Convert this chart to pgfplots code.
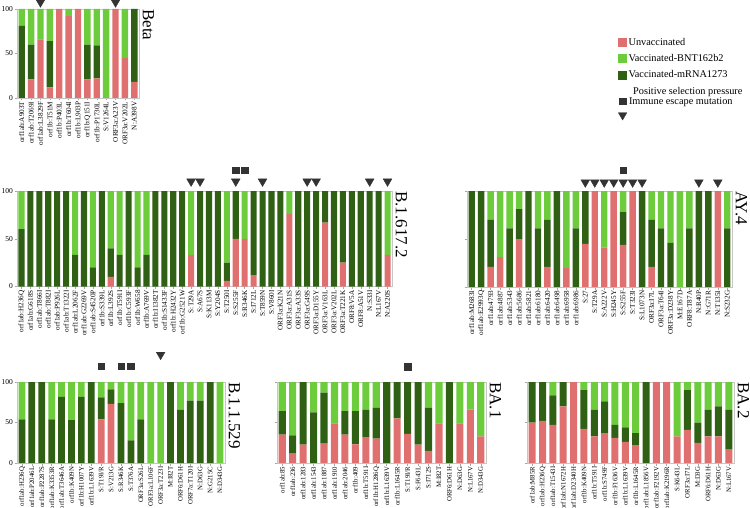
\documentclass[border=0pt]{standalone}
\usepackage{pgfplots}
\usepackage{pgfplotstable}
\pgfplotsset{compat=1.18}
\usepackage{fontspec}
\setmainfont{Liberation Serif}
\definecolor{cU}{RGB}{224,112,112}
\definecolor{cB}{RGB}{108,204,60}
\definecolor{cM}{RGB}{48,96,20}
\definecolor{cK}{RGB}{51,51,51}

\pgfplotsset{
 panel/.style={
   scale only axis, ybar stacked, bar width=0.68,
   ymin=0, ymax=100, enlargelimits=false,
   ytick={0,50,100}, xtick=data,
   axis line style={draw=gray!45, line width=0.6pt},
   tick style={draw=gray!70, line width=0.5pt},
   major tick length=2.5pt, tick align=outside,
   xtick pos=left, ytick pos=left,
   /pgf/number format/assume math mode=true,
   yticklabel style={font=\fontsize{7.5}{8}\selectfont, inner sep=1.5pt},
   xticklabel style={rotate=90, anchor=east, inner sep=1pt, font=\fontsize{7.2}{8}\selectfont},
 },
 small/.style={xticklabel style={font=\fontsize{6.8}{8}\selectfont}},
 mk/.style={scale only axis, hide axis, clip=false, ymin=0, ymax=100, enlargelimits=false},
 tri/.style={only marks, mark=triangle*, mark size=5pt, mark options={rotate=180, fill=cK, draw=cK}},
 sq/.style={only marks, mark=square*, mark size=3.3pt, mark options={fill=cK, draw=cK}},
 gBeta/.style={at={(17pt,-98pt)}, anchor=south west, width=122pt, height=89pt, xmin=0.5, xmax=13.5},
 gDelta/.style={at={(17pt,-286.5pt)}, anchor=south west, width=375pt, height=95.5pt, xmin=0.5, xmax=42.5},
 gAY/.style={at={(467pt,-287pt)}, anchor=south west, width=265pt, height=96pt, xmin=0.5, xmax=28.5},
 gO/.style={at={(17pt,-463pt)}, anchor=south west, width=208pt, height=81pt, xmin=0.5, xmax=21.5},
 gBAa/.style={at={(277pt,-463pt)}, anchor=south west, width=209pt, height=81pt, xmin=0.5, xmax=20.5},
 gBAb/.style={at={(527pt,-463pt)}, anchor=south west, width=207pt, height=81pt, xmin=0.5, xmax=20.5},
}
\newcommand\stack[1]{%
 \addplot[fill=cU, draw=none] table[x=i,y=u]{#1};
 \addplot[fill=cM, draw=none] table[x=i,y=m]{#1};
 \addplot[fill=cB, draw=none] table[x=i,y=b]{#1};}
\newcommand\ttl[1]{\node[rotate=-90, anchor=south west, inner xsep=0pt, inner ysep=3.5pt, font=\fontsize{17}{20}\selectfont] at (rel axis cs:1,1) {#1};}

\pgfplotstableread{
i u m b
1 0 81 19
2 21 39 40
3 66 0 34
4 12 52 36
5 100 0 0
6 92 0 8
7 100 0 0
8 21 39 40
9 22 37 41
10 0 0 100
11 100 0 0
12 45 0 55
13 18 82 0
}\tBeta

\pgfplotstableread{
i u m b
1 0 60 40
2 0 100 0
3 0 100 0
4 0 100 0
5 0 100 0
6 0 100 0
7 0 33 67
8 0 100 0
9 0 20 80
10 0 100 0
11 10 30 60
12 0 33 67
13 0 100 0
14 0 20 80
15 0 33 67
16 0 100 0
17 0 100 0
18 0 100 0
19 0 100 0
20 33 0 67
21 0 100 0
22 0 100 0
23 0 100 0
24 6 19 75
25 50 50 0
26 50 0 50
27 12 88 0
28 0 100 0
29 0 100 0
30 0 100 0
31 76 0 24
32 0 100 0
33 0 100 0
34 0 100 0
35 67 33 0
36 0 100 0
37 25 75 0
38 0 100 0
39 0 100 0
40 0 100 0
41 0 100 0
42 33 0 67
}\tDelta

\pgfplotstableread{
i u m b
1 0 100 0
2 0 100 0
3 21 49 30
4 31 0 69
5 0 61 39
6 50 31 19
7 0 100 0
8 0 61 39
9 21 49 30
10 0 100 0
11 20 0 80
12 0 61 39
13 45 55 0
14 100 0 0
15 41 0 59
16 100 0 0
17 44 34 22
18 100 0 0
19 0 100 0
20 21 49 30
21 0 61 39
22 0 46 54
23 0 0 100
24 0 61 39
25 0 100 0
26 0 100 0
27 100 0 0
28 0 61 39
}\tAY

\pgfplotstableread{
i u m b
1 0 54 46
2 0 100 0
3 0 100 0
4 0 54 46
5 0 81.5 18.5
6 0 53 47
7 0 81.5 18.5
8 0 100 0
9 54 27 19
10 73 18 9
11 0 74 26
12 0 28 72
13 0 54 46
14 0 0 100
15 0 0 100
16 0 100 0
17 0 66 34
18 0 77 23
19 0 77 23
20 0 100 0
21 0 0 100
}\tO

\pgfplotstableread{
i u m b
1 35 29 36
2 11.5 22.5 66
3 22.6 77.4 0
4 0 62.5 37.5
5 24 63 13
6 49 0 51
7 35 29 36
8 23 41 36
9 32 34 34
10 30 38 32
11 0 100 0
12 55 45 0
13 36 64 0
14 22.6 77.4 0
15 15 53 32
16 49 0 51
17 0 100 0
18 49 0 51
19 66 0 34
20 33 0 67
}\tBAa

\pgfplotstableread{
i u m b
1 50 50 0
2 52 48 0
3 47 36.5 16.5
4 70 30 0
5 100 0 0
6 42 48 10
7 33 33 34
8 37 39 24
9 31 16 53
10 26 18 56
11 22 15 63
12 0 100 0
13 100 0 0
14 100 0 0
15 33 0 67
16 41 49 10
17 25 25 50
18 33 33 34
19 33 37 30
20 16.5 49.5 34
}\tBAb

\begin{document}
\begin{tikzpicture}
\useasboundingbox (0,0) rectangle (750pt,-508pt);

% ---------------- Beta
\begin{axis}[panel, gBeta,
 xticklabels={orf1ab:A903T,orf1ab:T2069I,orf1ab:L3829F,orf1b:T51M,orf1b:P403L,orf1b:T604I,orf1b:L903P,orf1b:Q151I,orf1b:P1730L,S:V1264L,ORF3a:A23V,ORF3a:V202L,N:A398V}]
\stack{\tBeta}
\end{axis}
\begin{axis}[mk, gBeta]
\addplot[tri] coordinates {(3,107.5) (11,107.5)};
\ttl{Beta}
\end{axis}

% ---------------- B.1.617.2
\begin{axis}[panel, gDelta,
 xticklabels={orf1ab:H236Q,orf1ab:G618S,orf1ab:T866I,orf1ab:T882I,orf1ab:P926L,orf1ab:T1322I,orf1ab:L2062F,orf1ab:G2269V,orf1ab:S4520P,orf1b:S339L,orf1b:L392S,orf1b:T591I,orf1b:C593F,orf1b:W658,orf1b:A769V,orf1b:I1382T,orf1b:S1433F,orf1b:H2432Y,orf1b:G2521W,S:T29A,S:A67S,S:K113M,S:Y204S,S:T250I,S:S255F,S:R346K,S:I712L,S:T859N,S:V860I,ORF3a:K21N,ORF3a:A31S,ORF3a:A33S,ORF3a:G49S,ORF3a:D155Y,ORF3a:V163L,ORF3a:V202L,ORF3a:T221K,ORF8:V5A,ORF8:A51V,N:S33I,N:L167V,N:A220S}]
\stack{\tDelta}
\end{axis}
\begin{axis}[mk, gDelta]
\addplot[tri] coordinates {(20,110) (21,110) (25,110) (28,110) (33,110) (34,110) (40,110) (42,110)};
\addplot[sq] coordinates {(25,121.7) (26,121.7)};
\ttl{B.1.617.2}
\end{axis}

% ---------------- AY.4
\begin{axis}[panel, gAY, yticklabels={},
 xticklabels={orf1ab:M2683I,orf1ab:E2993Q,orf1ab:4793,orf1ab:4887,orf1ab:5343,orf1ab:5686,orf1ab:5821,orf1ab:6180,orf1ab:6420,orf1ab:6498,orf1ab:6958,orf1ab:6986,S:27,S:T29A,S:A222V,S:H245Y,S:S255F,S:T323I,S:L1073N,ORF3a:I7L,ORF3a:T64I,ORF3a:D238Y,M:E167D,ORF8:T87A,N:R40P,N:G71R,N:T135I,N:S232G}]
\stack{\tAY}
\end{axis}
\begin{axis}[mk, gAY]
\addplot[tri] coordinates {(13,109) (14,109) (15,109) (16,109) (17,109) (18,109) (19,109) (25,109) (27,109)};
\addplot[sq] coordinates {(17,121.5)};
\ttl{AY.4}
\end{axis}

% ---------------- B.1.1.529
\begin{axis}[panel, small, gO,
 xticklabels={orf1ab:H236Q,orf1ab:P2046L,orf1ab:P2287S,orf1ab:K3353R,orf1ab:T3646A,orf1b:K409N,orf1b:H1007Y,orf1b:L1639V,S:T19I/R,S:V213G,S:R346K,S:T376A,ORF3a:S26L,ORF3a:L106F,ORF3a:T223I,M:I82T,ORF6:D61H,ORF7a:T120I,N:D63G,N:G215C,N:D343G}]
\stack{\tO}
\end{axis}
\begin{axis}[mk, gO]
\addplot[tri] coordinates {(15,133.7)};
\addplot[sq] coordinates {(9,119.5) (11,119.5) (12,119.5)};
\ttl{B.1.1.529}
\end{axis}

% ---------------- BA.1
\begin{axis}[panel, small, gBAa, yticklabels={},
 xticklabels={orf1ab:85,orf1ab:236,orf1ab:1283,orf1ab:1543,orf1ab:1887,orf1ab:1910,orf1ab:2046,orf1b:409,orf1b:T591I,orf1b:H1286Q,orf1b:L1639V,orf1b:L1645R,S:T19I/R,S:F643L,S:I712S,M:I82T,ORF6:D61H,N:D63G,N:L167V,N:D343G}]
\stack{\tBAa}
\end{axis}
\begin{axis}[mk, gBAa]
\addplot[sq] coordinates {(13,119)};
\ttl{BA.1}
\end{axis}

% ---------------- BA.2
\begin{axis}[panel, small, gBAb, yticklabels={},
 xticklabels={orf1ab:M85R,orf1ab:H236Q,orf1ab:T1543I,orf1ab:N1672H,orf1ab:D2340H,orf1b:K409N,orf1b:T591I,orf1b:S749F,orf1b:F1636V,orf1b:L1639V,orf1b:L1645R,orf1ab:L1856V,orf1ab:F2192V,orf1ab:K2196R,S:K643L,ORF3a:I7L,M:D3G,ORF6:D61H,N:D63G,N:L167V}]
\stack{\tBAb}
\end{axis}
\begin{axis}[mk, gBAb]
\ttl{BA.2}
\end{axis}

% ---------------- legends
\begin{axis}[at={(618pt,-36pt)}, anchor=north west, scale only axis, width=5pt, height=5pt,
 hide axis, xmin=0, xmax=1, ymin=0, ymax=1,
 legend style={at={(0,1)}, anchor=north west, draw=none, fill=none, inner sep=0pt,
   row sep=3.5pt, font=\fontsize{10.3}{12}\selectfont, cells={anchor=west}},
 legend cell align=left]
\addlegendimage{legend image code/.code={\fill[cU] (0pt,-4pt) rectangle (8pt,4pt);}}
\addlegendentry{Unvaccinated}
\addlegendimage{legend image code/.code={\fill[cB] (0pt,-4pt) rectangle (8pt,4pt);}}
\addlegendentry{Vaccinated-BNT162b2}
\addlegendimage{legend image code/.code={\fill[cM] (0pt,-4pt) rectangle (8pt,4pt);}}
\addlegendentry{Vaccinated-mRNA1273}
\end{axis}
\begin{axis}[at={(618pt,-95pt)}, anchor=north west, scale only axis, width=5pt, height=5pt,
 hide axis, xmin=0, xmax=1, ymin=0, ymax=1,
 legend style={at={(0,1)}, anchor=north west, draw=none, fill=none, inner sep=0pt,
   row sep=5pt, font=\fontsize{10.3}{12}\selectfont, cells={anchor=west}},
 legend cell align=left]
\addlegendimage{legend image code/.code={\fill[cK] (0.8pt,-3.2pt) rectangle (7.2pt,3.2pt);}}
\addlegendentry{Immune escape mutation}
\addlegendimage{legend image code/.code={\fill[cK] (-0.2pt,3pt) -- (8.2pt,3pt) -- (4pt,-4.3pt) -- cycle;}}
\addlegendentry{}
\end{axis}
\node[anchor=base west, inner sep=0pt, font=\fontsize{10.3}{12}\selectfont] at (633pt,-94.5pt) {Positive selection pressure};
\end{tikzpicture}
\end{document}
